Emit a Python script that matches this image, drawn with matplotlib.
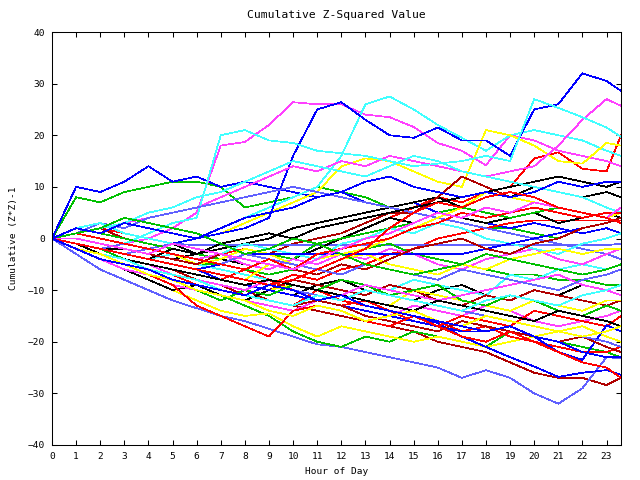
import matplotlib
matplotlib.use("Agg")
import matplotlib.pyplot as plt
import numpy as np

# hour positions: every hour plus the last reading
hours = list(range(24)) + [23.6]

red_runs = [
    [0, 1, 2, 1, 0, -1, -2, -3, -2, -3, -4, -2, 0, 2, 4, 6, 8, 7, 9, 10, 15.5, 16.7, 13.5, 13, 20],
    [0, -1, -2, -3, -4, -5, -6, -7, -8, -9, -7, -8, -6, -5, -3, -2, 0, 1, 2, 3, 3.5, 3.5, 3.5, 3.5, 3.5],
    [0, -1, -3, -4, -5, -6, -7, -8, -6, -8, -10, -12, -13, -12, -14, -15, -16, -18, -17, -19, -20, -21, -22, -22, -21],
    [0, -2, -3, -5, -6, -7, -9, -10, -11, -12, -13, -10, -12, -13, -14, -16, -17, -15, -16, -17, -14, -15, -16, -17, -15],
    [0, -1, -3, -5, -7, -9, -13, -15, -17, -19, -14, -13, -14, -16, -17, -15, -17, -19, -20, -18, -20, -22, -24, -25, -27],
    [0, 1, 0, -1, -2, -3, -4, -5, -6, -4, -6, -3, -2, -1, 0, 2, 3, 5, 4, 5, 6, 5, 4, 5, 5],
    [0, -1, -2, -3, -4, -5, -6, -7, -8, -9, -8, -6, -4, -2, 2, 5, 7, 6, 8, 9, 8, 6, 5, 4, 3],
]
green_runs = [
    [0, 8, 7, 9, 10, 11, 11, 10, 6, 7, 8, 10, 9, 8, 6, 5, 4, 3, 2, 2, 1, 0, 2, 3, 4],
    [0, -1, -2, -4, -6, -7, -9, -11, -13, -15, -18, -20, -21, -19, -20, -18, -19, -20, -21, -18, -19, -20, -21, -22, -23],
    [0, -1, -2, -2, -3, -4, -5, -5, -6, -7, -6, -4, -3, -2, -1, -3, -4, -5, -6, -7, -7, -8, -8, -9, -9],
    [0, 2, 1, 0, -1, -2, -3, -4, -2, -3, -4, -1, 0, 1, 2, 3, 5, 6, 5, 4, 5, 6, 5, 4, 5],
    [0, -2, -4, -5, -7, -8, -10, -12, -10, -11, -9, -10, -8, -9, -11, -10, -9, -12, -13, -11, -12, -14, -15, -13, -14],
    [0, 1, 2, 4, 3, 2, 1, -1, -3, -2, 0, -1, -3, -5, -6, -7, -6, -5, -3, -4, -5, -6, -7, -6, -5],
]
blue_runs = [
    [0, 10, 9, 11, 14, 11, 12, 10, 11, 10, 9, 8, 9, 7, 6, 7, 5, 4, 3, 2, 3, 2, 1, 2, 1],
    [0, -1, -2, -3, -2, -1, 0, 1, 2, 4, 16, 25, 26.4, 23, 20, 19.5, 21.5, 19, 19, 16, 25, 26, 32, 30.5, 28.6],
    [0, -1, -2, -3, -4, -5, -6, -7, -8, -9, -10, -11, -12, -13, -14, -15, -16.4, -19, -21, -23, -24.8, -26.8, -26, -25.5, -26.4],
    [0, -1, -2, -3, -4, -5, -6, -8, -9, -10, -11, -12, -13, -14, -15, -16, -17, -18, -18, -17, -19, -22, -23.5, -16.8, -18],
    [0, -1, -2, -3, -4, -5, -6, -5, -3, -3, -3, -3, -3, -3, -3, -3, -3, -3, -2, -1, 0, 1, 2, 3, 4],
    [0, 2, 1, 3, 2, 1, 0, 2, 4, 5, 6, 8, 9, 11, 12, 10, 9, 8, 9, 8, 9, 11, 10, 11, 11],
    [0, -2, -4, -5, -6, -8, -9, -10, -11, -9, -10, -12, -11, -13, -14, -15, -16, -17, -18, -17, -19, -20, -22, -23, -23],
]
magenta_runs = [
    [0, -1, -2, -1, 0, 2, 5, 18, 18.7, 22, 26.4, 26, 26, 24, 23.5, 21.6, 18.5, 17, 14.2, 20, 19, 17, 16, 15, 14],
    [0, 1, 2, 3, 4, 5, 6, 8, 10, 12, 14, 13, 15, 14, 16, 15, 14, 13, 12, 13, 14, 18, 23, 27, 25.7],
    [0, -2, -4, -6, -7, -9, -10, -11, -12, -13, -14, -12, -13, -14, -15, -13, -14, -15, -13, -14, -16, -17, -16, -15, -14],
    [0, 1, 0, -1, -2, -3, -4, -3, -5, -6, -4, -5, -3, -4, -2, -3, -5, -6, -4, -3, -2, -4, -5, -3, -2],
    [0, -1, -3, -4, -5, -7, -8, -9, -10, -8, -9, -10, -11, -9, -10, -11, -12, -11, -10, -9, -8, -7, -9, -10, -11],
    [0, 0, -1, -2, -3, -1, -2, -3, -4, -5, -6, -4, -2, 0, 1, 3, 5, 4, 6, 5, 7, 6, 5, 4, 6],
]
cyan_runs = [
    [0, 1, 0, -1, -2, -1, 0, 2, 4, 6, 8, 10, 16, 26, 27.5, 25, 22, 19.5, 17, 20, 21, 20, 19, 17, 16],
    [0, -1, -2, -1, 1, 3, 4, 20, 21, 19, 18.5, 17, 16.5, 16, 15, 14, 14.5, 15, 16, 15, 27, 25.3, 23.5, 21.5, 19.7],
    [0, -1, -2, -3, -4, -3, -5, -6, -7, -8, -9, -10, -8, -9, -10, -8, -9, -10, -11, -7, -8, -6, -5, -6, -5],
    [0, 2, 3, 1, 0, -1, -2, -3, -1, -2, -3, -4, -1, 0, 2, 1, 3, 2, 0, -1, -2, -3, -1, 0, 1],
    [0, 1, 2, 3, 5, 6, 8, 9, 11, 13, 15, 14, 13, 12, 14, 16, 15, 13, 12, 11, 10, 9, 8, 6, 5],
    [0, -2, -3, -4, -6, -7, -8, -10, -11, -12, -13, -11, -12, -10, -11, -12, -13, -14, -12, -11, -12, -13, -11, -10, -9],
]
darkred_runs = [
    [0, -1, -2, -4, -5, -6, -8, -9, -10, -12, -13, -14, -15, -16, -17, -18, -20, -21, -22, -24, -26, -27, -27, -28.4, -27],
    [0, 1, 2, 0, -1, -2, -3, -4, -2, -3, -1, 0, 1, 3, 5, 5, 8, 12, 10, 8, 7, 6, 5, 4, 3],
    [0, -1, -3, -4, -5, -6, -7, -8, -9, -10, -8, -9, -10, -11, -9, -10, -12, -13, -11, -12, -10, -11, -12, -13, -12],
    [0, -2, -3, -5, -6, -7, -8, -9, -11, -12, -13, -12, -13, -15, -16, -17, -18, -16, -17, -18, -19, -20, -19, -21, -22],
    [0, 0, -1, -2, -3, -4, -5, -3, -4, -5, -6, -7, -5, -6, -4, -2, -1, 0, -2, -3, -1, 0, 2, 3, 4],
]
yellow_runs = [
    [0, -1, -2, -3, -2, -1, 0, 1, 3, 5, 7, 9, 14, 15.5, 15, 13, 11, 10, 21, 20, 18, 15, 14.5, 18.5, 18],
    [0, -2, -4, -6, -8, -10, -12, -14, -15, -14.5, -17, -19, -17, -18, -19, -20, -19, -20, -21, -20, -19, -18, -17, -19, -20],
    [0, -1, -2, -3, -4, -5, -6, -8, -9, -10, -9, -10, -11, -12, -13, -10, -11, -12, -13, -14, -12, -13, -14, -12, -12],
    [0, 1, 0, -1, -2, -3, -5, -4, -2, -3, -5, -6, -4, -3, -5, -6, -7, -5, -6, -4, -3, -2, -3, -2, -2],
    [0, -1, -2, -3, -4, -5, -6, -7, -8, -5, -6, -4, -3, -2, 0, 2, 4, 6, 9, 8, 7, 6, 5, 4, 5],
    [0, -2, -3, -5, -7, -8, -10, -11, -12, -14, -15, -13, -14, -16, -15, -14, -16, -17, -15, -16, -17, -18, -19, -18, -17],
]
black_runs = [
    [0, 1, 0, -1, -2, -1, -3, -2, -1, 0, 2, 3, 4, 5, 6, 7, 8, 6, 9, 8, 10, 9, 8, 9, 8],
    [0, -2, -4, -6, -8, -10, -9, -11, -12, -10, -11, -9, -8, -10, -11, -12, -10, -9, -11, -12, -10, -11, -9, -10, -11],
    [0, -1, -2, -2, -3, -4, -3, -4, -5, -6, -4, -2, 0, 2, 4, 3, 5, 4, 3, 4, 5, 3, 4, 5, 4],
    [0, -1, -2, -3, -4, -2, -3, -1, 0, 1, 0, 2, 3, 4, 5, 6, 7, 8, 9, 10, 11, 12, 11, 10, 11],
    [0, -1, -3, -4, -5, -6, -7, -8, -9, -8, -9, -10, -11, -12, -13, -14, -12, -13, -14, -15, -16, -14, -15, -16, -17],
]
lavender_runs = [
    [0, -3, -6, -8, -10, -12, -13.5, -15, -16, -17.5, -19, -20.5, -21, -22, -23, -24, -25, -27, -25.5, -27, -30, -32, -29, -23, -23.2],
    [0, -1, -2, -3, -2, -1, -1.3, -1.3, -1.3, -1.3, -1.3, -1.3, -1.3, -1.3, -1.3, -1.3, -1.3, -1.3, -1.3, -1.3, -1.3, -1.3, -1.3, -1.3, -1],
    [0, 1, 3, 2, 4, 5, 6, 7, 8, 9, 10, 9, 8, 7, 6, 5, 4, 3, 2, 1, 0, -1, -2, -3, -4],
    [0, -1, -2, -3, -4, -5, -6, -7, -8, -9, -10, -11, -12, -10, -11, -12, -13, -14, -15, -16, -17, -18, -19, -20, -21],
    [0, -1, -2, -1, -2, -3, -4, -5, -3, -4, -5, -6, -7, -5, -6, -7, -8, -6, -7, -8, -9, -10, -8, -7, -6],
]

groups = [
    (red_runs, "#ff0000"),
    (green_runs, "#00c000"),
    (blue_runs, "#0000ff"),
    (magenta_runs, "#ff40ff"),
    (cyan_runs, "#40ffff"),
    (darkred_runs, "#b00000"),
    (yellow_runs, "#ffff00"),
    (black_runs, "#000000"),
    (lavender_runs, "#6060ff"),
]

plt.rcParams["font.family"] = "DejaVu Sans Mono"
plt.rcParams["font.size"] = 6.8

fig = plt.figure(figsize=(6.4, 4.8), dpi=100)
ax = fig.add_axes([52 / 640, 1 - 445 / 480, (621 - 52) / 640, (445 - 32) / 480])

# draw in gnuplot style: one run of each colour in turn
n_max = max(len(g[0]) for g in groups)
for i in range(n_max):
    for runs, col in groups:
        if i < len(runs):
            ax.plot(hours, runs[i], color=col, lw=0.5, antialiased=False)

ax.set_xlim(0, 23.6)
ax.set_ylim(-40, 40)
ax.set_xticks(np.arange(24))
ax.set_yticks(np.arange(-40, 41, 10))
ax.tick_params(direction="in", length=3.6, width=0.75, top=True, right=True, pad=5)
for s in ax.spines.values():
    s.set_linewidth(0.75)

ax.set_title("Cumulative Z-Squared Value", pad=10)
ax.set_xlabel("Hour of Day", labelpad=4)
ax.set_ylabel("Cumulative (Z*Z)-1", labelpad=7)

fig.savefig("out.png", dpi=100)
